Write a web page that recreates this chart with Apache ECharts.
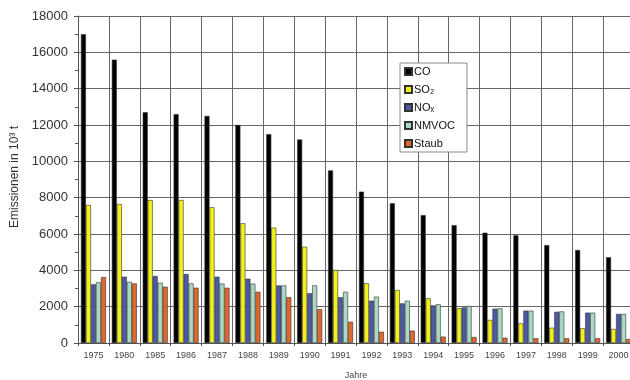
<!DOCTYPE html>
<html>
<head>
<meta charset="utf-8">
<script src="https://cdn.jsdelivr.net/npm/echarts@6/dist/echarts.min.js"></script>
<style>
html,body{margin:0;padding:0;background:#fff;}
#chart{width:630px;height:380px;}
</style>
</head>
<body>
<div id="chart"></div>
<script>
var years = ['1975','1980','1985','1986','1987','1988','1989','1990','1991','1992','1993','1994','1995','1996','1997','1998','1999','2000'];
var seriesNames = ['CO','SO₂','NOₓ','NMVOC','Staub'];
var co    = [17000,15600,12700,12600,12500,12000,11500,11200,9500,8330,7690,7040,6490,6070,5930,5390,5120,4720];
var so2   = [7600,7650,7870,7870,7470,6590,6350,5300,4020,3290,2920,2460,1910,1270,1080,840,810,770];
var nox   = [3230,3650,3690,3800,3650,3540,3170,2740,2520,2330,2180,2070,1960,1890,1780,1720,1670,1600];
var nmvoc = [3340,3370,3320,3280,3270,3270,3170,3170,2820,2550,2330,2130,2040,1910,1780,1740,1670,1600];
var staub = [3630,3280,3100,3040,3040,2820,2520,1860,1170,620,680,350,330,290,260,260,260,220];
var yTicks = [0,2000,4000,6000,8000,10000,12000,14000,16000,18000];

var colors = ['#000000','#f2f21a','#4c5aa6','#a9d9c3','#e2672c'];
var dataSets = [co, so2, nox, nmvoc, staub];

var chart = echarts.init(document.getElementById('chart'));
var series = seriesNames.map(function(n, i){
  return {
    name: n,
    type: 'bar',
    data: dataSets[i],
    barWidth: 5,
    barGap: '0%',
    itemStyle: {color: colors[i], borderColor: '#333', borderWidth: 0.6},
    emphasis: {disabled: true}
  };
});

chart.setOption({
  animation: false,
  backgroundColor: '#fff',
  textStyle: {fontFamily: 'Liberation Sans, Arial, sans-serif'},
  grid: {left: 78, top: 16, right: -4, bottom: 37, containLabel: false, outerBoundsMode: 'none'},
  legend: {
    orient: 'vertical',
    left: 400, top: 63,
    width: 66,
    padding: [3, 12, 3, 4],
    itemWidth: 7, itemHeight: 7, itemGap: 7,
    icon: 'rect',
    backgroundColor: '#fff',
    borderColor: '#888', borderWidth: 1,
    textStyle: {fontSize: 11, color: '#111', fontFamily: 'Liberation Sans, Arial, sans-serif', padding: [0,0,0,-3]},
    data: seriesNames
  },
  xAxis: {
    type: 'category',
    data: years,
    name: 'Jahre',
    nameLocation: 'middle',
    nameGap: 28,
    nameTextStyle: {fontSize: 9, color: '#444'},
    axisLine: {lineStyle: {color: '#555', width: 1}},
    axisTick: {show: true, length: 3, lineStyle: {color: '#555'}},
    axisLabel: {interval: 0, fontSize: 9, color: '#444', margin: 8},
    splitLine: {show: true, interval: 0, lineStyle: {color: '#666', width: 1}}
  },
  yAxis: {
    type: 'value',
    min: 0, max: 18000, interval: 2000,
    axisLine: {show: true, lineStyle: {color: '#555', width: 1}},
    axisTick: {show: true, length: 4, lineStyle: {color: '#555'}},
    minorTick: {show: true, splitNumber: 2, length: 3, lineStyle: {color: '#555'}},
    axisLabel: {fontSize: 13, color: '#333', margin: 10,
      formatter: function(v){ return String(v); }},
    splitLine: {show: true, lineStyle: {color: '#666', width: 1}}
  },
  graphic: [{
    type: 'text',
    x: 15, y: 177,
    rotation: Math.PI/2,
    style: {
      text: 'Emissionen in 10³ t',
      fontSize: 12,
      fill: '#333',
      fontFamily: 'Liberation Sans, Arial, sans-serif',
      align: 'center',
      verticalAlign: 'middle'
    }
  }],
  series: series
});
</script>
</body>
</html>
